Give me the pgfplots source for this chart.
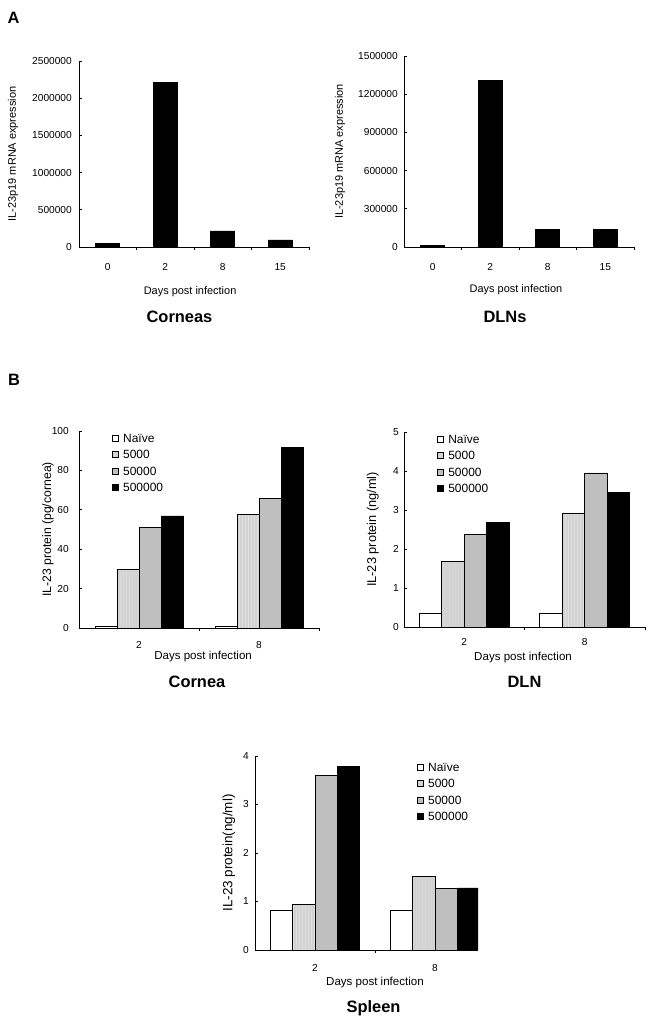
\documentclass[border=0pt]{standalone}
\usepackage{fontspec}
\setmainfont{Liberation Sans}
\usepackage{pgfplots}
\pgfplotsset{compat=1.18}
\usetikzlibrary{patterns}
\newcommand\tickfont{\fontsize{10.2}{12}\selectfont}
\newcommand\labfont{\fontsize{11}{13}\selectfont}
\newcommand\blabfont{\fontsize{11.6}{13}\selectfont}
\newcommand\titfont{\fontsize{16.5}{19}\selectfont\bfseries}
\definecolor{g5}{HTML}{D2D2D2}
\definecolor{g50}{HTML}{BFBFBF}
\pgfplotsset{
  base/.style={
    scale only axis, anchor=south west,
    axis x line=bottom, axis y line=left,
    axis line style={-, line width=0.8bp},
    tick align=inside, major tick length=3bp,
    tick style={black, line width=0.8bp},
    ymin=0, enlargelimits=false,
    scaled y ticks=false,
    /pgf/number format/assume math mode=true,
    yticklabel style={/pgf/number format/fixed, /pgf/number format/1000 sep={}, font=\tickfont, anchor=east, inner sep=0pt},
    xticklabel style={font=\tickfont, anchor=center, inner sep=0pt},
    xticklabels={},
    label style={font=\labfont},
    extra x tick style={major tick length=0pt},
    ybar=0pt,
  },
  legB/.style={
    legend cell align=left,
    legend image code/.code={\draw[##1, line width=0.6bp] (0bp,-3bp) rectangle (6bp,3bp);},
    legend style={draw=none, fill=none, inner sep=0pt, row sep=3bp, column sep=2bp,
      font=\fontsize{12}{14}\selectfont, nodes={inner sep=2.5bp, text height=8.5bp, text depth=0bp}},
    xlabel style={font=\blabfont},
  },
}
\begin{document}
\begin{tikzpicture}
\useasboundingbox (0,0) rectangle (660bp,1022bp);
% ---------------- A1
\begin{axis}[base, at={(79bp,775bp)}, width=230bp, height=186bp,
  xmin=-0.5, xmax=3.5, ymax=2500000, ytick={0,500000,1000000,1500000,2000000,2500000},
  xtick={0.5,1.5,2.5,3.5},
  extra x ticks={0,1,2,3}, extra x tick labels={0,2,8,15},
  xticklabel style={yshift=-20bp},
  yticklabel style={xshift=-7bp},
  bar width=24bp,
  ylabel={IL-23p19 mRNA expression}, ylabel style={at={(axis description cs:-0.287,0.5)}, anchor=center},
  xlabel={Days post infection}, xlabel style={at={(axis description cs:0.483,-0.242)}, anchor=center},
]
\addplot[fill=black, draw=black, line width=0.8bp] coordinates {(0,49000) (1,2210000) (2,215000) (3,95000)};
\end{axis}
% ---------------- A2
\begin{axis}[base, at={(404bp,775bp)}, width=230bp, height=191bp,
  xmin=-0.5, xmax=3.5, ymax=1500000, ytick={0,300000,600000,900000,1200000,1500000},
  xtick={0.5,1.5,2.5,3.5},
  extra x ticks={0,1,2,3}, extra x tick labels={0,2,8,15},
  xticklabel style={yshift=-20bp},
  yticklabel style={xshift=-6bp},
  bar width=24bp,
  ylabel={IL-23p19 mRNA expression}, ylabel style={at={(axis description cs:-0.278,0.5)}, anchor=center},
  xlabel={Days post infection}, xlabel style={at={(axis description cs:0.487,-0.225)}, anchor=center},
]
\addplot[fill=black, draw=black, line width=0.8bp] coordinates {(0,13000) (1,1310000) (2,138000) (3,138000)};
\end{axis}
% ---------------- B1
\begin{axis}[base, at={(79bp,394bp)}, width=240bp, height=197bp,
  xmin=-0.5, xmax=1.5, ymax=100, ytick={0,20,...,100},
  xtick={0.5,1.5},
  extra x ticks={0,1}, extra x tick labels={2,8},
  xticklabel style={yshift=-17bp},
  yticklabel style={xshift=-10bp},
  bar width=22bp, legB,
  ylabel={IL-23 protein (pg/cornea)}, ylabel style={at={(axis description cs:-0.129,0.5)}, anchor=center, font=\fontsize{12.3}{14}\selectfont},
  xlabel={Days post infection}, xlabel style={at={(axis description cs:0.517,-0.147)}, anchor=center},
  legend style={at={(axis description cs:0.137,1.0)}, anchor=north west},
]
\addplot[fill=white, draw=black, line width=0.8bp] coordinates {(0,0.8) (1,0.8)};
\addplot[fill=g5, draw=black, line width=0.8bp, postaction={pattern=vertical lines, pattern color=black!12}] coordinates {(0,29.8) (1,57.6)};
\addplot[fill=g50, draw=black, line width=0.8bp] coordinates {(0,51.2) (1,65.8)};
\addplot[fill=black, draw=black, line width=0.8bp] coordinates {(0,56.9) (1,91.7)};
\legend{Naïve,5000,50000,500000}
\end{axis}
% ---------------- B2
\begin{axis}[base, at={(404bp,395bp)}, width=241bp, height=195bp,
  xmin=-0.5, xmax=1.5, ymax=5, ytick={0,1,...,5},
  xtick={0.5,1.5},
  extra x ticks={0,1}, extra x tick labels={2,8},
  xticklabel style={yshift=-15bp},
  yticklabel style={xshift=-5bp},
  bar width=22.5bp, legB,
  ylabel={IL-23 protein (ng/ml)}, ylabel style={at={(axis description cs:-0.129,0.5)}, anchor=center, font=\fontsize{12.8}{14}\selectfont},
  xlabel={Days post infection}, xlabel style={at={(axis description cs:0.494,-0.159)}, anchor=center},
  legend style={at={(axis description cs:0.137,1.0)}, anchor=north west},
]
\addplot[fill=white, draw=black, line width=0.8bp] coordinates {(0,0.36) (1,0.36)};
\addplot[fill=g5, draw=black, line width=0.8bp, postaction={pattern=vertical lines, pattern color=black!12}] coordinates {(0,1.67) (1,2.91)};
\addplot[fill=g50, draw=black, line width=0.8bp] coordinates {(0,2.37) (1,3.95)};
\addplot[fill=black, draw=black, line width=0.8bp] coordinates {(0,2.68) (1,3.46)};
\legend{Naïve,5000,50000,500000}
\end{axis}
% ---------------- B3
\begin{axis}[base, at={(255bp,72bp)}, width=223bp, height=194bp,
  xmin=-0.5, xmax=1.358, ymax=4, ytick={0,1,...,4},
  xtick={0.5},
  extra x ticks={0,1}, extra x tick labels={2,8},
  xticklabel style={yshift=-18bp},
  yticklabel style={xshift=-6bp},
  bar width=22.3bp, legB,
  ylabel={IL-23 protein(ng/ml)}, ylabel style={at={(axis description cs:-0.117,0.5)}, anchor=center, font=\fontsize{13.5}{15}\selectfont},
  xlabel={Days post infection}, xlabel style={at={(axis description cs:0.538,-0.170)}, anchor=center},
  legend style={at={(axis description cs:0.726,0.98)}, anchor=north west},
]
\addplot[fill=white, draw=black, line width=0.8bp] coordinates {(0,0.81) (1,0.81)};
\addplot[fill=g5, draw=black, line width=0.8bp, postaction={pattern=vertical lines, pattern color=black!12}] coordinates {(0,0.94) (1,1.52)};
\addplot[fill=g50, draw=black, line width=0.8bp] coordinates {(0,3.59) (1,1.27)};
\addplot[fill=black, draw=black, line width=0.8bp] coordinates {(0,3.79) (1,1.28)};
\legend{Naïve,5000,50000,500000}
\end{axis}
% ---------------- titles
\node[font=\titfont] at (13.5bp,1004bp) {A};
\node[font=\titfont] at (14bp,642bp) {B};
\node[font=\titfont] at (179.5bp,705bp) {Corneas};
\node[font=\titfont] at (505bp,705bp) {DLNs};
\node[font=\titfont] at (197bp,340bp) {Cornea};
\node[font=\titfont] at (524.5bp,340bp) {DLN};
\node[font=\titfont] at (373.5bp,14bp) {Spleen};
\end{tikzpicture}
\end{document}
